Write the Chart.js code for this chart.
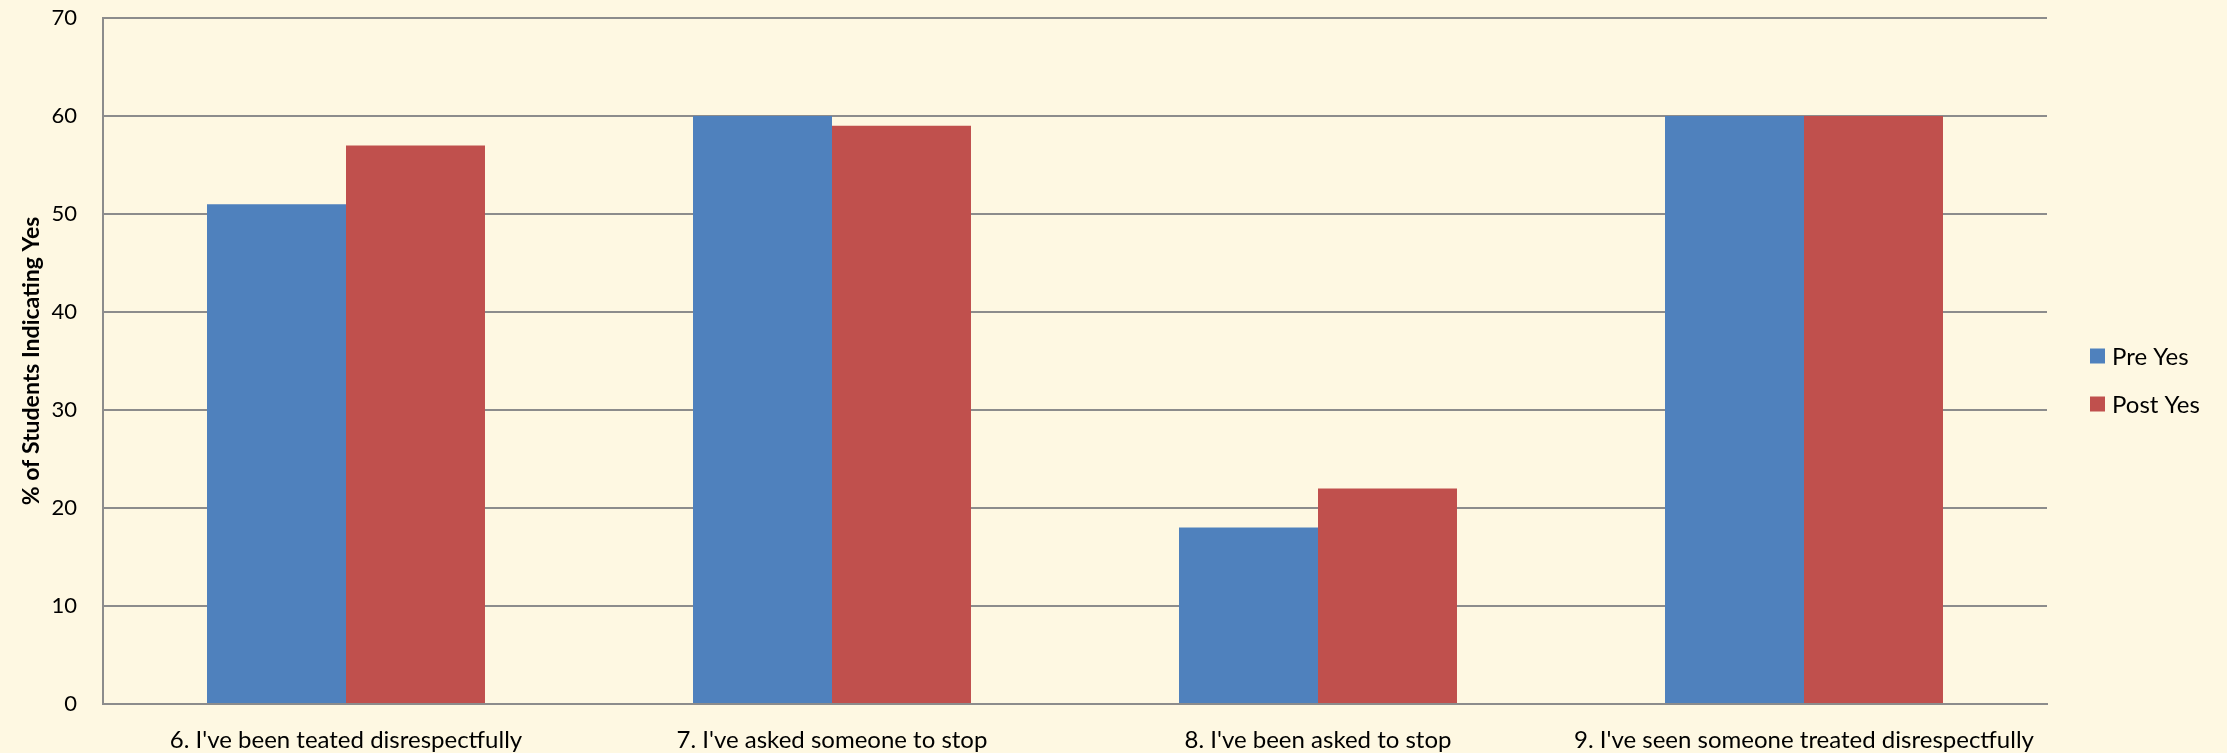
<!DOCTYPE html>
<html>
<head>
<meta charset="utf-8">
<script src="https://cdn.jsdelivr.net/npm/chart.js@4/dist/chart.umd.min.js"></script>
<style>
  html, body { margin: 0; padding: 0; background: #FEF8E2; }
  #wrap { width: 2227px; height: 753px; position: relative; }
</style>
</head>
<body>
<div id="wrap"><canvas id="c" width="2227" height="753"></canvas></div>
<script>
const categories = [
  "6. I've been teated disrespectfully",
  "7. I've asked someone to stop",
  "8. I've been asked to stop",
  "9. I've seen someone treated disrespectfully"
];
const preYes = [51, 60, 18, 60];
const postYes = [57, 59, 22, 60];
const seriesNames = ["Pre Yes", "Post Yes"];
const yTicks = [0, 10, 20, 30, 40, 50, 60, 70];
const yTitle = "% of Students Indicating Yes";

const FONT = "Lato, 'Open Sans', 'Liberation Sans', sans-serif";
const GRID = "#8C8C8C";

const bgPlugin = {
  id: 'bg',
  beforeDraw(chart) {
    const ctx = chart.ctx;
    ctx.save();
    ctx.fillStyle = "#FEF8E2";
    ctx.fillRect(0, 0, chart.width, chart.height);
    ctx.restore();
  }
};

const legendPlugin = {
  id: 'sideLegend',
  afterDraw(chart) {
    const ctx = chart.ctx;
    const a = chart.chartArea;
    const x = a.right + 43;
    const cy = (a.top + a.bottom) / 2 + 19;
    const gap = 48;
    const ds = chart.data.datasets;
    ctx.save();
    ctx.font = "24px " + FONT;
    ctx.textBaseline = "middle";
    ds.forEach((d, i) => {
      const y = cy + (i - (ds.length - 1) / 2) * gap;
      ctx.fillStyle = d.backgroundColor;
      ctx.fillRect(x, y - 7.5, 15, 15);
      ctx.fillStyle = "#000";
      ctx.fillText(d.label, x + 22, y + 1);
    });
    ctx.restore();
  }
};

new Chart(document.getElementById('c'), {
  type: 'bar',
  data: {
    labels: categories,
    datasets: [
      { label: seriesNames[0], data: preYes, backgroundColor: "#4F81BD", borderWidth: 0 },
      { label: seriesNames[1], data: postYes, backgroundColor: "#C0504D", borderWidth: 0 }
    ]
  },
  options: {
    responsive: false,
    animation: false,
    devicePixelRatio: 1,
    layout: { padding: { left: 0, right: 180, top: 18, bottom: 0 } },
    categoryPercentage: 0.572,
    barPercentage: 1.0,
    plugins: {
      legend: { display: false },
      tooltip: { enabled: false }
    },
    scales: {
      x: {
        grid: { display: false, drawTicks: false },
        border: { display: true, color: GRID, width: 2 },
        ticks: { color: "#000", font: { family: FONT, size: 24 }, padding: 22, maxRotation: 0, autoSkip: false },
        afterFit(scale) { scale.height = 49; scale.paddingLeft = 0; scale.paddingRight = 0; }
      },
      y: {
        min: 0, max: 70,
        afterBuildTicks(scale) { scale.ticks = yTicks.map(v => ({ value: v })); },
        grid: { color: GRID, lineWidth: 2, drawTicks: false },
        border: { display: true, color: GRID, width: 2 },
        ticks: { color: "#000", font: { family: FONT, size: 22 }, padding: 26 },
        title: { display: true, text: yTitle, color: "#000", font: { family: FONT, size: 23, weight: 'bold' }, padding: { top: 18, bottom: 0 } },
        afterFit(scale) { scale.width = 103; scale.paddingTop = 0; scale.paddingBottom = 0; }
      }
    }
  },
  plugins: [bgPlugin, legendPlugin]
});
</script>
</body>
</html>
